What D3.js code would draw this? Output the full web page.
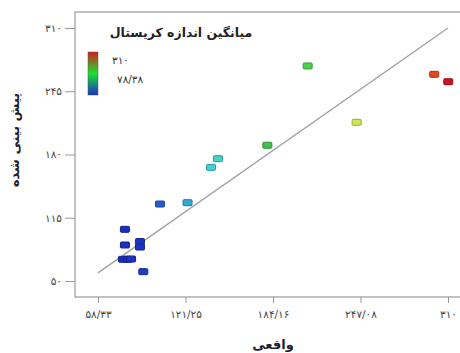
<!DOCTYPE html>
<html><head><meta charset="utf-8">
<script src="https://cdn.jsdelivr.net/npm/d3@7"></script>
<style>html,body{margin:0;padding:0;background:#fff;}svg{display:block;}</style>
</head><body>
<svg id="c" width="460" height="353"></svg>
<script>
// Data
const actual    = [77.7, 77.7, 88.5, 88.5, 76.3, 79.9, 82.1, 90.9, 102.9, 122.7, 139.6, 144.6, 180.1, 209.1, 244.3, 300.1, 310.2];
const predicted = [103.1, 87.0, 90.6, 84.9, 72.3, 72.3, 72.6, 59.6, 129.1, 130.5, 166.8, 175.7, 189.5, 271.0, 213.1, 262.4, 254.8];
const crystal   = [80, 80, 82, 82, 79, 80, 81, 86, 100, 125, 140, 146, 178, 208, 245, 300, 310];
const xTickVals = [58.33, 121.25, 184.16, 247.08, 310];
const xTickLabels = ["۵۸/۳۳", "۱۲۱/۲۵", "۱۸۴/۱۶", "۲۴۷/۰۸", "۳۱۰"];
const yTickVals = [50, 115, 180, 245, 310];
const yTickLabels = ["۵۰", "۱۱۵", "۱۸۰", "۲۴۵", "۳۱۰"];
const legendRange = [78.38, 310];
const legendLabels = ["۳۱۰", "۷۸/۳۸"];
const xTitle = "واقعی";
const yTitle = "پیش بینی شده";
const legendTitle = "میانگین اندازه کریستال";

const svg = d3.select("#c");
const F = "'DejaVu Sans', sans-serif";
const frame = {l: 75, t: 12, r: 470, b: 297};

const x = d3.scaleLinear().domain([58.33, 310]).range([98, 448]);
const y = d3.scaleLinear().domain([50, 310]).range([281, 28]);

const color = d3.scaleLinear()
  .domain([78.38, 100, 125, 142, 180, 210, 245, 300, 310])
  .range(["#1a2cc2", "#2a5cc8", "#30a8d8", "#44d4d8", "#40c048", "#50d050", "#d0e850", "#e04a20", "#cc1520"]);

// frame
svg.append("rect").attr("x", frame.l).attr("y", frame.t)
  .attr("width", frame.r - frame.l).attr("height", frame.b - frame.t)
  .attr("fill", "none").attr("stroke", "#9a9a9a").attr("stroke-width", 1.2);

// axes
const yAxis = d3.axisLeft(y).tickValues(yTickVals).tickFormat((d, i) => yTickLabels[i]).tickSize(10).tickPadding(3);
const gy = svg.append("g").attr("transform", `translate(${frame.l},0)`).call(yAxis);
gy.select(".domain").remove();
gy.selectAll("line").attr("stroke", "#9a9a9a");
gy.selectAll("text").attr("font-family", F).attr("font-size", 10.5).attr("fill", "#444");

const xAxis = d3.axisBottom(x).tickValues(xTickVals).tickFormat((d, i) => xTickLabels[i]).tickSize(6).tickPadding(8);
const gx = svg.append("g").attr("transform", `translate(0,${frame.b})`).call(xAxis);
gx.select(".domain").remove();
gx.selectAll("line").attr("stroke", "#9a9a9a");
gx.selectAll("text").attr("font-family", F).attr("font-size", 10.5).attr("fill", "#444");

// diagonal y = x
svg.append("line")
  .attr("x1", x(58.33)).attr("y1", y(58.33))
  .attr("x2", x(310)).attr("y2", y(310))
  .attr("stroke", "#a0a0a0").attr("stroke-width", 1.3);

// points
const pts = actual.map((a, i) => ({a, p: predicted[i], c: crystal[i]}));
svg.append("g").selectAll("rect").data(pts).join("rect")
  .attr("x", d => x(d.a) - 4.5).attr("y", d => y(d.p) - 3)
  .attr("width", 9).attr("height", 6).attr("rx", 1)
  .attr("fill", d => color(d.c))
  .attr("stroke", d => d3.color(color(d.c)).darker(0.9))
  .attr("stroke-width", 1);

// legend
svg.append("text").attr("x", 181).attr("y", 37).attr("text-anchor", "middle")
  .attr("font-family", F).attr("font-size", 12.5).attr("font-weight", "bold").attr("fill", "#222")
  .text(legendTitle);
const defs = svg.append("defs");
const grad = defs.append("linearGradient").attr("id", "cb").attr("x1", 0).attr("y1", 0).attr("x2", 0).attr("y2", 1);
grad.append("stop").attr("offset", "0%").attr("stop-color", "#d42018");
grad.append("stop").attr("offset", "50%").attr("stop-color", "#18e030");
grad.append("stop").attr("offset", "100%").attr("stop-color", "#1a30c8");
svg.append("rect").attr("x", 88).attr("y", 52).attr("width", 10).attr("height", 43)
  .attr("fill", "url(#cb)").attr("stroke", "#555").attr("stroke-width", 0.5);
svg.append("text").attr("x", 112).attr("y", 64)
  .attr("font-family", F).attr("font-size", 10.5).attr("fill", "#333").text(legendLabels[0]);
svg.append("text").attr("x", 117).attr("y", 83)
  .attr("font-family", F).attr("font-size", 10.5).attr("fill", "#333").text(legendLabels[1]);

// titles
svg.append("text").attr("x", 273).attr("y", 349).attr("text-anchor", "middle")
  .attr("font-family", F).attr("font-size", 13).attr("font-weight", "bold").attr("fill", "#1e1e2e")
  .text(xTitle);
svg.append("text").attr("transform", "translate(19,140) rotate(-90)").attr("text-anchor", "middle")
  .attr("font-family", F).attr("font-size", 13).attr("font-weight", "bold").attr("fill", "#1e1e2e")
  .text(yTitle);
</script>
</body></html>
